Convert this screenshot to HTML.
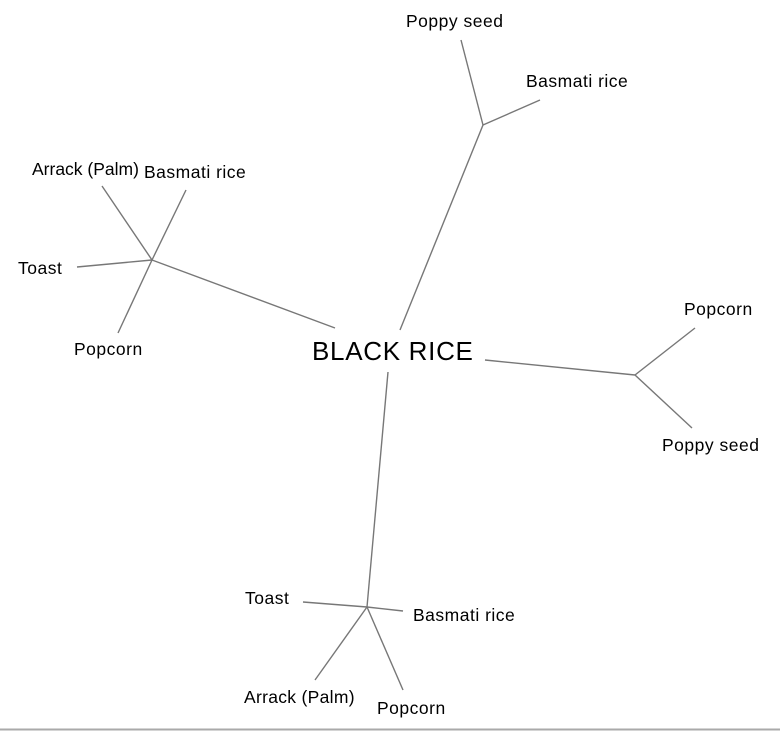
<!DOCTYPE html>
<html><head><style>
html,body{margin:0;padding:0;background:#fff;}
svg{display:block}
text{font-family:"Liberation Sans",Arial,sans-serif;font-size:17.5px;letter-spacing:0.5px;fill:#000}
</style></head><body>
<svg width="780" height="731" viewBox="0 0 780 731">
<g stroke="#777" stroke-width="1.4" fill="none">
<line x1="400" y1="330" x2="483" y2="125"/>
<line x1="483" y1="125" x2="461" y2="40"/>
<line x1="483" y1="125" x2="540" y2="100"/>
<line x1="335" y1="328" x2="152" y2="260"/>
<line x1="152" y1="260" x2="102" y2="186"/>
<line x1="152" y1="260" x2="186" y2="190"/>
<line x1="152" y1="260" x2="77" y2="267"/>
<line x1="152" y1="260" x2="118" y2="333"/>
<line x1="485" y1="360" x2="635" y2="375"/>
<line x1="635" y1="375" x2="695" y2="328"/>
<line x1="635" y1="375" x2="692" y2="428"/>
<line x1="388" y1="372" x2="367" y2="607"/>
<line x1="367" y1="607" x2="303" y2="602"/>
<line x1="367" y1="607" x2="403" y2="611"/>
<line x1="367" y1="607" x2="315" y2="680"/>
<line x1="367" y1="607" x2="403" y2="690"/>
</g>
<line x1="0" y1="729.5" x2="780" y2="729.5" stroke="#aaa" stroke-width="2"/>
<text x="312" y="360" style="font-size:26px;letter-spacing:0.7px">BLACK RICE</text>
<text x="406" y="27">Poppy seed</text>
<text x="526" y="87">Basmati rice</text>
<text x="32" y="175" style="letter-spacing:0">Arrack (Palm)</text>
<text x="144" y="178">Basmati rice</text>
<text x="18" y="274">Toast</text>
<text x="74" y="355">Popcorn</text>
<text x="684" y="315">Popcorn</text>
<text x="662" y="451">Poppy seed</text>
<text x="245" y="604">Toast</text>
<text x="413" y="621">Basmati rice</text>
<text x="244" y="703" style="letter-spacing:0.3px">Arrack (Palm)</text>
<text x="377" y="714">Popcorn</text>
</svg>
</body></html>
